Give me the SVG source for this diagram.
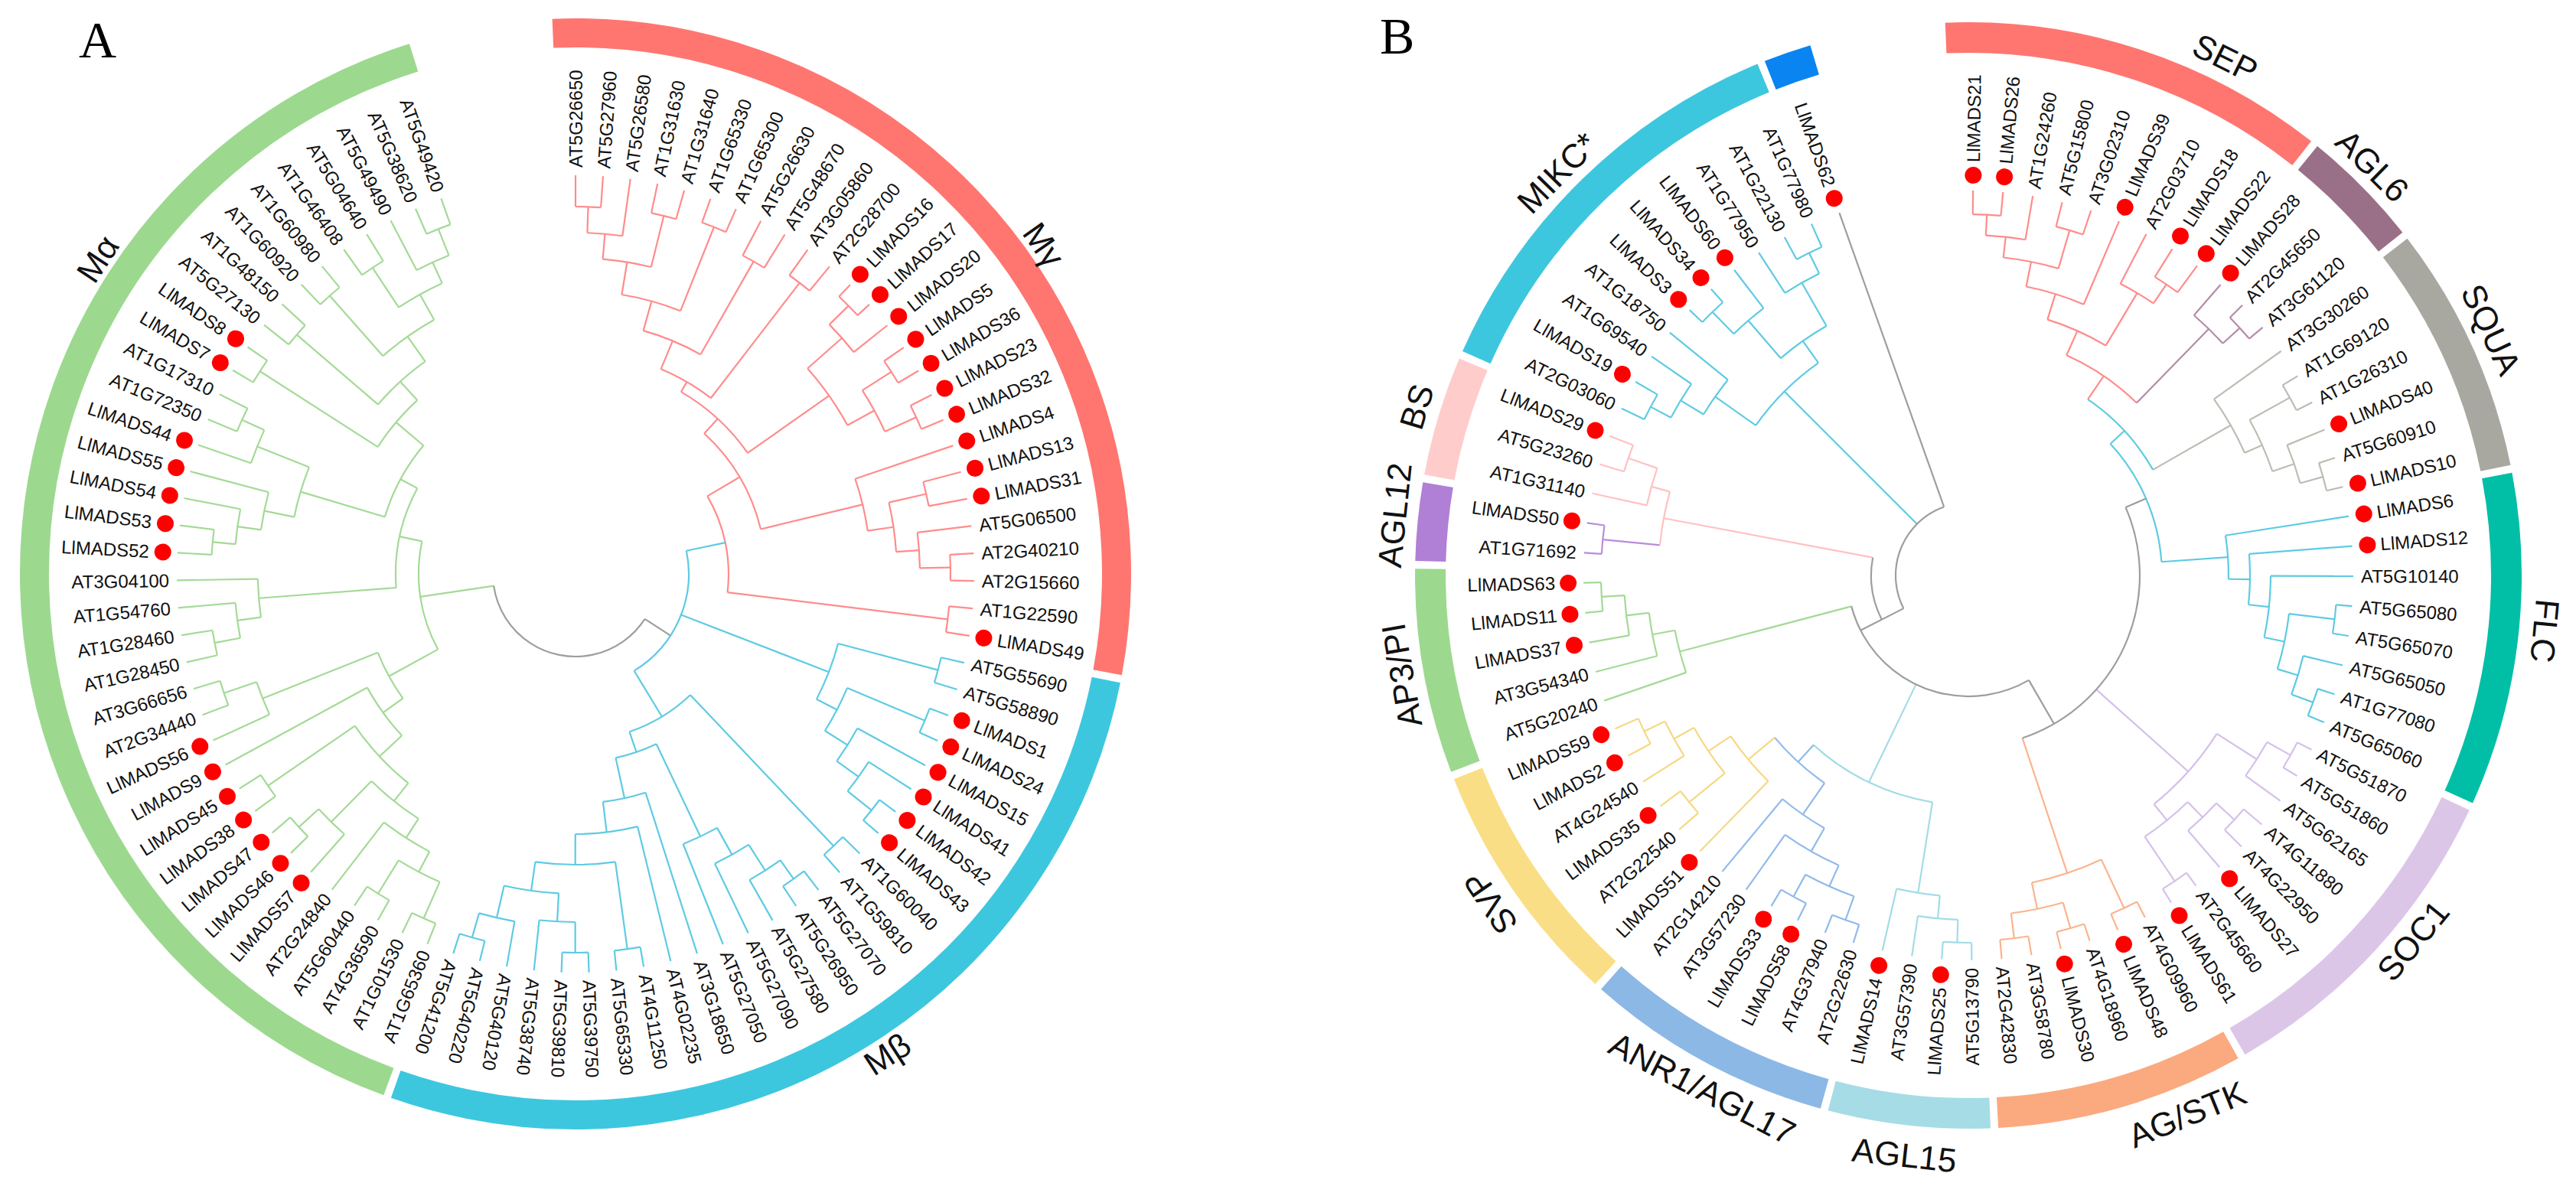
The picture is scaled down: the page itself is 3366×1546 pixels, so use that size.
<svg xmlns="http://www.w3.org/2000/svg" width="3366" height="1546" viewBox="0 0 3366 1546">
<style>
.lb{font-family:"Liberation Sans",Arial,sans-serif;font-size:24px;fill:#111;dominant-baseline:central}
.e{text-anchor:end}
.rl{font-family:"Liberation Sans",Arial,sans-serif;font-size:44px;fill:#111;text-anchor:middle;dominant-baseline:central}
.pn{font-family:"Liberation Serif","Times New Roman",serif;font-size:68px;fill:#000}
.br *{fill:none;stroke-width:2.2}
.rg circle{fill:none}
.dot{fill:#ff0000;r:11px}
.c1{stroke:#FF8C8C}.c2{stroke:#5ECBE3}.c3{stroke:#A4DA96}.c4{stroke:#9E9E9E}.c5{stroke:#B48CA8}.c6{stroke:#BDBDB5}.c7{stroke:#D5C0EA}.c8{stroke:#FBB48E}.c9{stroke:#A3DCE6}.c10{stroke:#90BAEA}.c11{stroke:#F6D884}.c12{stroke:#B98CDC}.c13{stroke:#FFC2C2}
</style>
<rect width="3366" height="1546" fill="#fff"/>
<text class="pn" x="103" y="75">A</text>
<text class="pn" x="1803" y="70">B</text>

<!-- ===== TREE A rings ===== -->
<g id="a-rings" class="rg" transform="translate(752,750) rotate(-90)">
<circle r="707" stroke="#FF7670" stroke-width="38" pathLength="360" stroke-dasharray="102.9 400" transform="rotate(-2.4)"/>
<circle r="707" stroke="#3DC7DF" stroke-width="38" pathLength="360" stroke-dasharray="98.1 400" transform="rotate(101.3)"/>
<circle r="707" stroke="#9CD98F" stroke-width="38" pathLength="360" stroke-dasharray="142.4 400" transform="rotate(200.2)"/>
<text class="rl" transform="rotate(54.9) translate(748,0) rotate(90)">Mγ</text>
<text class="rl" transform="rotate(147) translate(748,0) rotate(-90)">Mβ</text>
<text class="rl" transform="rotate(303.4) translate(748,0) rotate(90)">Mα</text>
</g>

<!-- ===== TREE A connectors ===== -->
<g id="a-connectors" class="br" transform="translate(752,750) rotate(-90)">
<g class="c1">
<path d="M480 0H521"/><path d="M480 0H521" transform="rotate(3.96)"/><path d="M446 0H521" transform="rotate(7.91)"/><path d="M482 0H521" transform="rotate(11.87)"/><path d="M482 0H521" transform="rotate(15.83)"/><path d="M488 0H521" transform="rotate(19.79)"/><path d="M488 0H521" transform="rotate(23.74)"/><path d="M470 0H521" transform="rotate(27.70)"/><path d="M470 0H521" transform="rotate(31.66)"/><path d="M480 0H521" transform="rotate(35.61)"/><path d="M480 0H521" transform="rotate(39.57)"/><path d="M500 0H521" transform="rotate(43.53)"/><path d="M500 0H521" transform="rotate(47.48)"/><path d="M465 0H521" transform="rotate(51.44)"/><path d="M490 0H521" transform="rotate(55.40)"/><path d="M490 0H521" transform="rotate(59.36)"/><path d="M490 0H521" transform="rotate(63.31)"/><path d="M490 0H521" transform="rotate(67.27)"/><path d="M386 0H521" transform="rotate(71.23)"/><path d="M470 0H521" transform="rotate(75.18)"/><path d="M470 0H521" transform="rotate(79.14)"/><path d="M450 0H521" transform="rotate(83.10)"/><path d="M490 0H521" transform="rotate(87.05)"/><path d="M490 0H521" transform="rotate(91.01)"/><path d="M490 0H521" transform="rotate(94.97)"/><path d="M490 0H521" transform="rotate(98.93)"/>
<path d="M446 0H480" transform="rotate(1.98)"/><path d="M413 0H446" transform="rotate(4.95)"/><path d="M413 0H482" transform="rotate(13.85)"/><path d="M370 0H413" transform="rotate(9.40)"/><path d="M370 0H488" transform="rotate(21.76)"/><path d="M330 0H370" transform="rotate(15.58)"/><path d="M330 0H470" transform="rotate(29.68)"/><path d="M290 0H330" transform="rotate(22.63)"/><path d="M290 0H480" transform="rotate(37.59)"/><path d="M275 0H290" transform="rotate(30.11)"/><path d="M465 0H500" transform="rotate(45.51)"/><path d="M405 0H465" transform="rotate(48.47)"/><path d="M445 0H490" transform="rotate(57.38)"/><path d="M445 0H490" transform="rotate(65.29)"/><path d="M405 0H445" transform="rotate(61.33)"/><path d="M275 0H405" transform="rotate(54.90)"/><path d="M249 0H275" transform="rotate(42.51)"/><path d="M420 0H470" transform="rotate(77.16)"/><path d="M450 0H490" transform="rotate(89.03)"/><path d="M420 0H450" transform="rotate(86.07)"/><path d="M386 0H420" transform="rotate(81.61)"/><path d="M249 0H386" transform="rotate(76.42)"/><path d="M200 0H249" transform="rotate(59.46)"/><path d="M200 0H490" transform="rotate(96.95)"/>
<circle r="480" pathLength="360" stroke-dasharray="3.96 400"/><circle r="446" pathLength="360" stroke-dasharray="5.94 400" transform="rotate(1.98)"/><circle r="482" pathLength="360" stroke-dasharray="3.96 400" transform="rotate(11.87)"/><circle r="413" pathLength="360" stroke-dasharray="8.90 400" transform="rotate(4.95)"/><circle r="488" pathLength="360" stroke-dasharray="3.96 400" transform="rotate(19.79)"/><circle r="370" pathLength="360" stroke-dasharray="12.37 400" transform="rotate(9.40)"/><circle r="470" pathLength="360" stroke-dasharray="3.96 400" transform="rotate(27.70)"/><circle r="330" pathLength="360" stroke-dasharray="14.10 400" transform="rotate(15.58)"/><circle r="480" pathLength="360" stroke-dasharray="3.96 400" transform="rotate(35.61)"/><circle r="290" pathLength="360" stroke-dasharray="14.96 400" transform="rotate(22.63)"/><circle r="500" pathLength="360" stroke-dasharray="3.96 400" transform="rotate(43.53)"/><circle r="465" pathLength="360" stroke-dasharray="5.94 400" transform="rotate(45.51)"/><circle r="490" pathLength="360" stroke-dasharray="3.96 400" transform="rotate(55.40)"/><circle r="490" pathLength="360" stroke-dasharray="3.96 400" transform="rotate(63.31)"/><circle r="445" pathLength="360" stroke-dasharray="7.91 400" transform="rotate(57.38)"/><circle r="405" pathLength="360" stroke-dasharray="12.86 400" transform="rotate(48.47)"/><circle r="275" pathLength="360" stroke-dasharray="24.79 400" transform="rotate(30.11)"/><circle r="470" pathLength="360" stroke-dasharray="3.96 400" transform="rotate(75.18)"/><circle r="490" pathLength="360" stroke-dasharray="3.96 400" transform="rotate(87.05)"/><circle r="450" pathLength="360" stroke-dasharray="5.94 400" transform="rotate(83.10)"/><circle r="420" pathLength="360" stroke-dasharray="8.90 400" transform="rotate(77.16)"/><circle r="386" pathLength="360" stroke-dasharray="10.39 400" transform="rotate(71.23)"/><circle r="249" pathLength="360" stroke-dasharray="33.91 400" transform="rotate(42.51)"/><circle r="490" pathLength="360" stroke-dasharray="3.96 400" transform="rotate(94.97)"/><circle r="200" pathLength="360" stroke-dasharray="37.48 400" transform="rotate(59.46)"/>
</g>
<g class="c2">
<path d="M490 0H521" transform="rotate(102.88)"/><path d="M490 0H521" transform="rotate(106.84)"/><path d="M495 0H521" transform="rotate(110.80)"/><path d="M495 0H521" transform="rotate(114.75)"/><path d="M420 0H521" transform="rotate(118.71)"/><path d="M455 0H521" transform="rotate(122.67)"/><path d="M495 0H521" transform="rotate(126.62)"/><path d="M495 0H521" transform="rotate(130.58)"/><path d="M490 0H521" transform="rotate(134.54)"/><path d="M490 0H521" transform="rotate(138.50)"/><path d="M490 0H521" transform="rotate(142.45)"/><path d="M490 0H521" transform="rotate(146.41)"/><path d="M460 0H521" transform="rotate(150.37)"/><path d="M420 0H521" transform="rotate(154.32)"/><path d="M380 0H521" transform="rotate(158.28)"/><path d="M300 0H521" transform="rotate(162.24)"/><path d="M340 0H521" transform="rotate(166.19)"/><path d="M495 0H521" transform="rotate(170.15)"/><path d="M495 0H521" transform="rotate(174.11)"/><path d="M495 0H521" transform="rotate(178.07)"/><path d="M495 0H521" transform="rotate(182.02)"/><path d="M455 0H521" transform="rotate(185.98)"/><path d="M461 0H521" transform="rotate(189.94)"/><path d="M494 0H521" transform="rotate(193.89)"/><path d="M494 0H521" transform="rotate(197.85)"/>
<path d="M355 0H490" transform="rotate(104.86)"/><path d="M385 0H495" transform="rotate(112.78)"/><path d="M455 0H495" transform="rotate(128.60)"/><path d="M420 0H455" transform="rotate(125.64)"/><path d="M385 0H420" transform="rotate(122.17)"/><path d="M355 0H385" transform="rotate(117.47)"/><path d="M148 0H355" transform="rotate(111.17)"/><path d="M218 0H490" transform="rotate(136.52)"/><path d="M460 0H490" transform="rotate(144.43)"/><path d="M420 0H460" transform="rotate(147.40)"/><path d="M380 0H420" transform="rotate(150.86)"/><path d="M246 0H380" transform="rotate(154.57)"/><path d="M455 0H495" transform="rotate(180.04)"/><path d="M380 0H495" transform="rotate(172.13)"/><path d="M418 0H455" transform="rotate(183.01)"/><path d="M461 0H494" transform="rotate(195.87)"/><path d="M418 0H461" transform="rotate(192.90)"/><path d="M380 0H418" transform="rotate(187.96)"/><path d="M340 0H380" transform="rotate(180.04)"/><path d="M300 0H340" transform="rotate(173.12)"/><path d="M246 0H300" transform="rotate(167.68)"/><path d="M218 0H246" transform="rotate(161.13)"/><path d="M148 0H218" transform="rotate(148.82)"/><path d="M148 0H200" transform="rotate(78.2)"/>
<circle r="490" pathLength="360" stroke-dasharray="3.96 400" transform="rotate(102.88)"/><circle r="495" pathLength="360" stroke-dasharray="3.96 400" transform="rotate(110.80)"/><circle r="495" pathLength="360" stroke-dasharray="3.96 400" transform="rotate(126.62)"/><circle r="455" pathLength="360" stroke-dasharray="5.94 400" transform="rotate(122.67)"/><circle r="420" pathLength="360" stroke-dasharray="6.93 400" transform="rotate(118.71)"/><circle r="385" pathLength="360" stroke-dasharray="9.40 400" transform="rotate(112.78)"/><circle r="355" pathLength="360" stroke-dasharray="12.61 400" transform="rotate(104.86)"/><circle r="490" pathLength="360" stroke-dasharray="3.96 400" transform="rotate(134.54)"/><circle r="490" pathLength="360" stroke-dasharray="3.96 400" transform="rotate(142.45)"/><circle r="460" pathLength="360" stroke-dasharray="5.94 400" transform="rotate(144.43)"/><circle r="420" pathLength="360" stroke-dasharray="6.92 400" transform="rotate(147.40)"/><circle r="380" pathLength="360" stroke-dasharray="7.42 400" transform="rotate(150.86)"/><circle r="495" pathLength="360" stroke-dasharray="3.96 400" transform="rotate(178.07)"/><circle r="495" pathLength="360" stroke-dasharray="3.96 400" transform="rotate(170.15)"/><circle r="455" pathLength="360" stroke-dasharray="5.94 400" transform="rotate(180.04)"/><circle r="494" pathLength="360" stroke-dasharray="3.96 400" transform="rotate(193.89)"/><circle r="461" pathLength="360" stroke-dasharray="5.94 400" transform="rotate(189.94)"/><circle r="418" pathLength="360" stroke-dasharray="9.89 400" transform="rotate(183.01)"/><circle r="380" pathLength="360" stroke-dasharray="15.83 400" transform="rotate(172.13)"/><circle r="340" pathLength="360" stroke-dasharray="13.85 400" transform="rotate(166.19)"/><circle r="300" pathLength="360" stroke-dasharray="10.88 400" transform="rotate(162.24)"/><circle r="246" pathLength="360" stroke-dasharray="13.11 400" transform="rotate(154.57)"/><circle r="218" pathLength="360" stroke-dasharray="24.61 400" transform="rotate(136.52)"/><circle r="148" pathLength="360" stroke-dasharray="70.62 400" transform="rotate(78.2)"/>
</g>
<g class="c3">
<path d="M492 0H521" transform="rotate(201.81)"/><path d="M492 0H521" transform="rotate(205.76)"/><path d="M491 0H521" transform="rotate(209.72)"/><path d="M491 0H521" transform="rotate(213.68)"/><path d="M410 0H521" transform="rotate(217.64)"/><path d="M455 0H521" transform="rotate(221.59)"/><path d="M490 0H521" transform="rotate(225.55)"/><path d="M490 0H521" transform="rotate(229.51)"/><path d="M488 0H521" transform="rotate(233.46)"/><path d="M488 0H521" transform="rotate(237.42)"/><path d="M310 0H521" transform="rotate(241.38)"/><path d="M440 0H521" transform="rotate(245.33)"/><path d="M485 0H521" transform="rotate(249.29)"/><path d="M485 0H521" transform="rotate(253.25)"/><path d="M480 0H521" transform="rotate(257.21)"/><path d="M480 0H521" transform="rotate(261.16)"/><path d="M446 0H521" transform="rotate(265.12)"/><path d="M415 0H521" transform="rotate(269.08)"/><path d="M476 0H521" transform="rotate(273.03)"/><path d="M476 0H521" transform="rotate(276.99)"/><path d="M446 0H521" transform="rotate(280.95)"/><path d="M415 0H521" transform="rotate(284.90)"/><path d="M448 0H521" transform="rotate(288.86)"/><path d="M480 0H521" transform="rotate(292.82)"/><path d="M480 0H521" transform="rotate(296.78)"/><path d="M490 0H521" transform="rotate(300.73)"/><path d="M490 0H521" transform="rotate(304.69)"/><path d="M480 0H521" transform="rotate(308.65)"/><path d="M480 0H521" transform="rotate(312.60)"/><path d="M485 0H521" transform="rotate(316.56)"/><path d="M485 0H521" transform="rotate(320.52)"/><path d="M480 0H521" transform="rotate(324.47)"/><path d="M480 0H521" transform="rotate(328.43)"/><path d="M448 0H521" transform="rotate(332.39)"/><path d="M485 0H521" transform="rotate(336.35)"/><path d="M485 0H521" transform="rotate(340.30)"/>
<path d="M440 0H492" transform="rotate(203.79)"/><path d="M440 0H491" transform="rotate(211.70)"/><path d="M410 0H440" transform="rotate(207.74)"/><path d="M380 0H410" transform="rotate(212.69)"/><path d="M455 0H490" transform="rotate(227.53)"/><path d="M380 0H455" transform="rotate(224.56)"/><path d="M350 0H380" transform="rotate(218.63)"/><path d="M350 0H488" transform="rotate(235.44)"/><path d="M310 0H350" transform="rotate(227.03)"/><path d="M278 0H310" transform="rotate(234.21)"/><path d="M440 0H485" transform="rotate(251.27)"/><path d="M278 0H440" transform="rotate(248.30)"/><path d="M205 0H278" transform="rotate(241.25)"/><path d="M446 0H480" transform="rotate(259.18)"/><path d="M415 0H446" transform="rotate(262.15)"/><path d="M235 0H415" transform="rotate(265.61)"/><path d="M446 0H476" transform="rotate(275.01)"/><path d="M415 0H446" transform="rotate(277.98)"/><path d="M375 0H415" transform="rotate(281.44)"/><path d="M448 0H480" transform="rotate(294.80)"/><path d="M375 0H448" transform="rotate(291.83)"/><path d="M260 0H375" transform="rotate(286.64)"/><path d="M307 0H490" transform="rotate(302.71)"/><path d="M340 0H480" transform="rotate(310.63)"/><path d="M380 0H485" transform="rotate(318.54)"/><path d="M418 0H480" transform="rotate(326.45)"/><path d="M448 0H485" transform="rotate(338.32)"/><path d="M418 0H448" transform="rotate(335.36)"/><path d="M380 0H418" transform="rotate(330.91)"/><path d="M340 0H380" transform="rotate(324.72)"/><path d="M307 0H340" transform="rotate(317.67)"/><path d="M260 0H307" transform="rotate(310.19)"/><path d="M235 0H260" transform="rotate(298.42)"/><path d="M205 0H235" transform="rotate(282.02)"/><path d="M108 0H205" transform="rotate(261.64)"/>
<circle r="492" pathLength="360" stroke-dasharray="3.96 400" transform="rotate(201.81)"/><circle r="491" pathLength="360" stroke-dasharray="3.96 400" transform="rotate(209.72)"/><circle r="440" pathLength="360" stroke-dasharray="7.91 400" transform="rotate(203.79)"/><circle r="410" pathLength="360" stroke-dasharray="9.89 400" transform="rotate(207.74)"/><circle r="490" pathLength="360" stroke-dasharray="3.96 400" transform="rotate(225.55)"/><circle r="455" pathLength="360" stroke-dasharray="5.94 400" transform="rotate(221.59)"/><circle r="380" pathLength="360" stroke-dasharray="11.87 400" transform="rotate(212.69)"/><circle r="488" pathLength="360" stroke-dasharray="3.96 400" transform="rotate(233.46)"/><circle r="350" pathLength="360" stroke-dasharray="16.82 400" transform="rotate(218.63)"/><circle r="310" pathLength="360" stroke-dasharray="14.34 400" transform="rotate(227.03)"/><circle r="485" pathLength="360" stroke-dasharray="3.96 400" transform="rotate(249.29)"/><circle r="440" pathLength="360" stroke-dasharray="5.94 400" transform="rotate(245.33)"/><circle r="278" pathLength="360" stroke-dasharray="14.10 400" transform="rotate(234.21)"/><circle r="480" pathLength="360" stroke-dasharray="3.96 400" transform="rotate(257.21)"/><circle r="446" pathLength="360" stroke-dasharray="5.94 400" transform="rotate(259.18)"/><circle r="415" pathLength="360" stroke-dasharray="6.92 400" transform="rotate(262.15)"/><circle r="476" pathLength="360" stroke-dasharray="3.96 400" transform="rotate(273.03)"/><circle r="446" pathLength="360" stroke-dasharray="5.94 400" transform="rotate(275.01)"/><circle r="415" pathLength="360" stroke-dasharray="6.92 400" transform="rotate(277.98)"/><circle r="480" pathLength="360" stroke-dasharray="3.96 400" transform="rotate(292.82)"/><circle r="448" pathLength="360" stroke-dasharray="5.94 400" transform="rotate(288.86)"/><circle r="375" pathLength="360" stroke-dasharray="10.39 400" transform="rotate(281.44)"/><circle r="490" pathLength="360" stroke-dasharray="3.96 400" transform="rotate(300.73)"/><circle r="480" pathLength="360" stroke-dasharray="3.96 400" transform="rotate(308.65)"/><circle r="485" pathLength="360" stroke-dasharray="3.96 400" transform="rotate(316.56)"/><circle r="480" pathLength="360" stroke-dasharray="3.96 400" transform="rotate(324.47)"/><circle r="485" pathLength="360" stroke-dasharray="3.96 400" transform="rotate(336.35)"/><circle r="448" pathLength="360" stroke-dasharray="5.94 400" transform="rotate(332.39)"/><circle r="418" pathLength="360" stroke-dasharray="8.90 400" transform="rotate(326.45)"/><circle r="380" pathLength="360" stroke-dasharray="12.37 400" transform="rotate(318.54)"/><circle r="340" pathLength="360" stroke-dasharray="14.10 400" transform="rotate(310.63)"/><circle r="307" pathLength="360" stroke-dasharray="14.96 400" transform="rotate(302.71)"/><circle r="260" pathLength="360" stroke-dasharray="23.56 400" transform="rotate(286.64)"/><circle r="235" pathLength="360" stroke-dasharray="32.80 400" transform="rotate(265.61)"/><circle r="205" pathLength="360" stroke-dasharray="40.76 400" transform="rotate(241.25)"/>
</g>
<g class="c4">
<circle r="108" pathLength="360" stroke-dasharray="138.64 400" transform="rotate(123)"/><path d="M108 0H148" transform="rotate(123)"/>
</g>
</g>

<!-- ===== TREE A labels ===== -->
<g id="a-labels" transform="translate(752,750) rotate(-90)">
<g id="a-AT5G26650" transform="rotate(0)"><text class="lb" x="531">AT5G26650</text></g>
<g id="a-AT5G27960" transform="rotate(3.96)"><text class="lb" x="531">AT5G27960</text></g>
<g id="a-AT5G26580" transform="rotate(7.91)"><text class="lb" x="531">AT5G26580</text></g>
<g id="a-AT1G31630" transform="rotate(11.87)"><text class="lb" x="531">AT1G31630</text></g>
<g id="a-AT1G31640" transform="rotate(15.83)"><text class="lb" x="531">AT1G31640</text></g>
<g id="a-AT1G65330" transform="rotate(19.79)"><text class="lb" x="531">AT1G65330</text></g>
<g id="a-AT1G65300" transform="rotate(23.74)"><text class="lb" x="531">AT1G65300</text></g>
<g id="a-AT5G26630" transform="rotate(27.70)"><text class="lb" x="531">AT5G26630</text></g>
<g id="a-AT5G48670" transform="rotate(31.66)"><text class="lb" x="531">AT5G48670</text></g>
<g id="a-AT3G05860" transform="rotate(35.61)"><text class="lb" x="531">AT3G05860</text></g>
<g id="a-AT2G28700" transform="rotate(39.57)"><text class="lb" x="531">AT2G28700</text></g>
<g id="a-LlMADS16" transform="rotate(43.53)"><circle class="dot" cx="540" r="10.5"/><text class="lb" x="558">LlMADS16</text></g>
<g id="a-LlMADS17" transform="rotate(47.48)"><circle class="dot" cx="540" r="10.5"/><text class="lb" x="558">LlMADS17</text></g>
<g id="a-LlMADS20" transform="rotate(51.44)"><circle class="dot" cx="540" r="10.5"/><text class="lb" x="558">LlMADS20</text></g>
<g id="a-LlMADS5" transform="rotate(55.40)"><circle class="dot" cx="540" r="10.5"/><text class="lb" x="558">LlMADS5</text></g>
<g id="a-LlMADS36" transform="rotate(59.36)"><circle class="dot" cx="540" r="10.5"/><text class="lb" x="558">LlMADS36</text></g>
<g id="a-LlMADS23" transform="rotate(63.31)"><circle class="dot" cx="540" r="10.5"/><text class="lb" x="558">LlMADS23</text></g>
<g id="a-LlMADS32" transform="rotate(67.27)"><circle class="dot" cx="540" r="10.5"/><text class="lb" x="558">LlMADS32</text></g>
<g id="a-LlMADS4" transform="rotate(71.23)"><circle class="dot" cx="540" r="10.5"/><text class="lb" x="558">LlMADS4</text></g>
<g id="a-LlMADS13" transform="rotate(75.18)"><circle class="dot" cx="540" r="10.5"/><text class="lb" x="558">LlMADS13</text></g>
<g id="a-LlMADS31" transform="rotate(79.14)"><circle class="dot" cx="540" r="10.5"/><text class="lb" x="558">LlMADS31</text></g>
<g id="a-AT5G06500" transform="rotate(83.10)"><text class="lb" x="531">AT5G06500</text></g>
<g id="a-AT2G40210" transform="rotate(87.05)"><text class="lb" x="531">AT2G40210</text></g>
<g id="a-AT2G15660" transform="rotate(91.01)"><text class="lb" x="531">AT2G15660</text></g>
<g id="a-AT1G22590" transform="rotate(94.97)"><text class="lb" x="531">AT1G22590</text></g>
<g id="a-LlMADS49" transform="rotate(98.93)"><circle class="dot" cx="540" r="10.5"/><text class="lb" x="558">LlMADS49</text></g>
<g id="a-AT5G55690" transform="rotate(102.88)"><text class="lb" x="531">AT5G55690</text></g>
<g id="a-AT5G58890" transform="rotate(106.84)"><text class="lb" x="531">AT5G58890</text></g>
<g id="a-LlMADS1" transform="rotate(110.80)"><circle class="dot" cx="540" r="10.5"/><text class="lb" x="558">LlMADS1</text></g>
<g id="a-LlMADS24" transform="rotate(114.75)"><circle class="dot" cx="540" r="10.5"/><text class="lb" x="558">LlMADS24</text></g>
<g id="a-LlMADS15" transform="rotate(118.71)"><circle class="dot" cx="540" r="10.5"/><text class="lb" x="558">LlMADS15</text></g>
<g id="a-LlMADS41" transform="rotate(122.67)"><circle class="dot" cx="540" r="10.5"/><text class="lb" x="558">LlMADS41</text></g>
<g id="a-LlMADS42" transform="rotate(126.62)"><circle class="dot" cx="540" r="10.5"/><text class="lb" x="558">LlMADS42</text></g>
<g id="a-LlMADS43" transform="rotate(130.58)"><circle class="dot" cx="540" r="10.5"/><text class="lb" x="558">LlMADS43</text></g>
<g id="a-AT1G60040" transform="rotate(134.54)"><text class="lb" x="531">AT1G60040</text></g>
<g id="a-AT1G59810" transform="rotate(138.50)"><text class="lb" x="531">AT1G59810</text></g>
<g id="a-AT5G27070" transform="rotate(142.45)"><text class="lb" x="531">AT5G27070</text></g>
<g id="a-AT5G26950" transform="rotate(146.41)"><text class="lb" x="531">AT5G26950</text></g>
<g id="a-AT5G27580" transform="rotate(150.37)"><text class="lb" x="531">AT5G27580</text></g>
<g id="a-AT5G27090" transform="rotate(154.32)"><text class="lb" x="531">AT5G27090</text></g>
<g id="a-AT5G27050" transform="rotate(158.28)"><text class="lb" x="531">AT5G27050</text></g>
<g id="a-AT3G18650" transform="rotate(162.24)"><text class="lb" x="531">AT3G18650</text></g>
<g id="a-AT4G02235" transform="rotate(166.19)"><text class="lb" x="531">AT4G02235</text></g>
<g id="a-AT4G11250" transform="rotate(170.15)"><text class="lb" x="531">AT4G11250</text></g>
<g id="a-AT5G65330" transform="rotate(174.11)"><text class="lb" x="531">AT5G65330</text></g>
<g id="a-AT5G39750" transform="rotate(178.07)"><text class="lb" x="531">AT5G39750</text></g>
<g id="a-AT5G39810" transform="rotate(182.02)"><text class="lb" x="531">AT5G39810</text></g>
<g id="a-AT5G38740" transform="rotate(185.98)"><text class="lb" x="531">AT5G38740</text></g>
<g id="a-AT5G40120" transform="rotate(189.94)"><text class="lb" x="531">AT5G40120</text></g>
<g id="a-AT5G40220" transform="rotate(193.89)"><text class="lb" x="531">AT5G40220</text></g>
<g id="a-AT5G41200" transform="rotate(197.85)"><text class="lb" x="531">AT5G41200</text></g>
<g id="a-AT1G65360" transform="rotate(201.81)"><text class="lb e" x="-531" transform="rotate(180)">AT1G65360</text></g>
<g id="a-AT1G01530" transform="rotate(205.76)"><text class="lb e" x="-531" transform="rotate(180)">AT1G01530</text></g>
<g id="a-AT4G36590" transform="rotate(209.72)"><text class="lb e" x="-531" transform="rotate(180)">AT4G36590</text></g>
<g id="a-AT5G60440" transform="rotate(213.68)"><text class="lb e" x="-531" transform="rotate(180)">AT5G60440</text></g>
<g id="a-AT2G24840" transform="rotate(217.64)"><text class="lb e" x="-531" transform="rotate(180)">AT2G24840</text></g>
<g id="a-LlMADS57" transform="rotate(221.59)"><circle class="dot" cx="540" r="10.5"/><text class="lb e" x="-558" transform="rotate(180)">LlMADS57</text></g>
<g id="a-LlMADS46" transform="rotate(225.55)"><circle class="dot" cx="540" r="10.5"/><text class="lb e" x="-558" transform="rotate(180)">LlMADS46</text></g>
<g id="a-LlMADS47" transform="rotate(229.51)"><circle class="dot" cx="540" r="10.5"/><text class="lb e" x="-558" transform="rotate(180)">LlMADS47</text></g>
<g id="a-LlMADS38" transform="rotate(233.46)"><circle class="dot" cx="540" r="10.5"/><text class="lb e" x="-558" transform="rotate(180)">LlMADS38</text></g>
<g id="a-LlMADS45" transform="rotate(237.42)"><circle class="dot" cx="540" r="10.5"/><text class="lb e" x="-558" transform="rotate(180)">LlMADS45</text></g>
<g id="a-LlMADS9" transform="rotate(241.38)"><circle class="dot" cx="540" r="10.5"/><text class="lb e" x="-558" transform="rotate(180)">LlMADS9</text></g>
<g id="a-LlMADS56" transform="rotate(245.33)"><circle class="dot" cx="540" r="10.5"/><text class="lb e" x="-558" transform="rotate(180)">LlMADS56</text></g>
<g id="a-AT2G34440" transform="rotate(249.29)"><text class="lb e" x="-531" transform="rotate(180)">AT2G34440</text></g>
<g id="a-AT3G66656" transform="rotate(253.25)"><text class="lb e" x="-531" transform="rotate(180)">AT3G66656</text></g>
<g id="a-AT1G28450" transform="rotate(257.21)"><text class="lb e" x="-531" transform="rotate(180)">AT1G28450</text></g>
<g id="a-AT1G28460" transform="rotate(261.16)"><text class="lb e" x="-531" transform="rotate(180)">AT1G28460</text></g>
<g id="a-AT1G54760" transform="rotate(265.12)"><text class="lb e" x="-531" transform="rotate(180)">AT1G54760</text></g>
<g id="a-AT3G04100" transform="rotate(269.08)"><text class="lb e" x="-531" transform="rotate(180)">AT3G04100</text></g>
<g id="a-LlMADS52" transform="rotate(273.03)"><circle class="dot" cx="540" r="10.5"/><text class="lb e" x="-558" transform="rotate(180)">LlMADS52</text></g>
<g id="a-LlMADS53" transform="rotate(276.99)"><circle class="dot" cx="540" r="10.5"/><text class="lb e" x="-558" transform="rotate(180)">LlMADS53</text></g>
<g id="a-LlMADS54" transform="rotate(280.95)"><circle class="dot" cx="540" r="10.5"/><text class="lb e" x="-558" transform="rotate(180)">LlMADS54</text></g>
<g id="a-LlMADS55" transform="rotate(284.90)"><circle class="dot" cx="540" r="10.5"/><text class="lb e" x="-558" transform="rotate(180)">LlMADS55</text></g>
<g id="a-LlMADS44" transform="rotate(288.86)"><circle class="dot" cx="540" r="10.5"/><text class="lb e" x="-558" transform="rotate(180)">LlMADS44</text></g>
<g id="a-AT1G72350" transform="rotate(292.82)"><text class="lb e" x="-531" transform="rotate(180)">AT1G72350</text></g>
<g id="a-AT1G17310" transform="rotate(296.78)"><text class="lb e" x="-531" transform="rotate(180)">AT1G17310</text></g>
<g id="a-LlMADS7" transform="rotate(300.73)"><circle class="dot" cx="540" r="10.5"/><text class="lb e" x="-558" transform="rotate(180)">LlMADS7</text></g>
<g id="a-LlMADS8" transform="rotate(304.69)"><circle class="dot" cx="540" r="10.5"/><text class="lb e" x="-558" transform="rotate(180)">LlMADS8</text></g>
<g id="a-AT5G27130" transform="rotate(308.65)"><text class="lb e" x="-531" transform="rotate(180)">AT5G27130</text></g>
<g id="a-AT1G48150" transform="rotate(312.60)"><text class="lb e" x="-531" transform="rotate(180)">AT1G48150</text></g>
<g id="a-AT1G60920" transform="rotate(316.56)"><text class="lb e" x="-531" transform="rotate(180)">AT1G60920</text></g>
<g id="a-AT1G60980" transform="rotate(320.52)"><text class="lb e" x="-531" transform="rotate(180)">AT1G60980</text></g>
<g id="a-AT1G46408" transform="rotate(324.47)"><text class="lb e" x="-531" transform="rotate(180)">AT1G46408</text></g>
<g id="a-AT5G04640" transform="rotate(328.43)"><text class="lb e" x="-531" transform="rotate(180)">AT5G04640</text></g>
<g id="a-AT5G49490" transform="rotate(332.39)"><text class="lb e" x="-531" transform="rotate(180)">AT5G49490</text></g>
<g id="a-AT5G38620" transform="rotate(336.35)"><text class="lb e" x="-531" transform="rotate(180)">AT5G38620</text></g>
<g id="a-AT5G49420" transform="rotate(340.30)"><text class="lb e" x="-531" transform="rotate(180)">AT5G49420</text></g>
</g>

<!-- ===== TREE B rings ===== -->
<g id="b-rings" class="rg" transform="translate(2572,752) rotate(-90)">
<circle r="703" stroke="#FF7670" stroke-width="40" pathLength="360" stroke-dasharray="40.7 400" transform="rotate(-2.4)"/>
<circle r="703" stroke="#9A7089" stroke-width="40" pathLength="360" stroke-dasharray="12.6 400" transform="rotate(39.1)"/>
<circle r="703" stroke="#A8A8A1" stroke-width="40" pathLength="360" stroke-dasharray="26.0 400" transform="rotate(52.5)"/>
<circle r="703" stroke="#00BFA6" stroke-width="40" pathLength="360" stroke-dasharray="35.0 400" transform="rotate(79.3)"/>
<circle r="703" stroke="#DCC6E8" stroke-width="40" pathLength="360" stroke-dasharray="34.9 400" transform="rotate(115.1)"/>
<circle r="703" stroke="#FAAA7E" stroke-width="40" pathLength="360" stroke-dasharray="26.1 400" transform="rotate(150.8)"/>
<circle r="703" stroke="#A6DCE5" stroke-width="40" pathLength="360" stroke-dasharray="17.0 400" transform="rotate(177.7)"/>
<circle r="703" stroke="#8CB8E6" stroke-width="40" pathLength="360" stroke-dasharray="26.1 400" transform="rotate(195.5)"/>
<circle r="703" stroke="#FADE85" stroke-width="40" pathLength="360" stroke-dasharray="26.0 400" transform="rotate(222.4)"/>
<circle r="703" stroke="#9CD98F" stroke-width="40" pathLength="360" stroke-dasharray="21.5 400" transform="rotate(249.2)"/>
<circle r="703" stroke="#B07FD6" stroke-width="40" pathLength="360" stroke-dasharray="8.2 400" transform="rotate(271.5)"/>
<circle r="703" stroke="#FFCCCC" stroke-width="40" pathLength="360" stroke-dasharray="12.6 400" transform="rotate(280.5)"/>
<circle r="703" stroke="#3DC7DF" stroke-width="40" pathLength="360" stroke-dasharray="43.7 400" transform="rotate(293.9)"/>
<circle r="703" stroke="#0A84F0" stroke-width="40" pathLength="360" stroke-dasharray="5.0 400" transform="rotate(338.4)"/>
<text class="rl" transform="rotate(26.4) translate(755,0) rotate(90)">SEP</text>
<text class="rl" transform="rotate(44.6) translate(752,0) rotate(90)">AGL6</text>
<text class="rl" transform="rotate(64.8) translate(755,0) rotate(90)">SQUA</text>
<text class="rl" transform="rotate(95.5) translate(757,0) rotate(90)">FLC</text>
<text class="rl" transform="rotate(129.4) translate(752,0) rotate(-90)">SOC1</text>
<text class="rl" transform="rotate(157.9) translate(760,0) rotate(-90)">AG/STK</text>
<text class="rl" transform="rotate(186.3) translate(762,0) rotate(-90)">AGL15</text>
<text class="rl" transform="rotate(207.4) translate(755,0) rotate(-90)">ANR1/AGL17</text>
<text class="rl" transform="rotate(235.6) translate(757,0) rotate(90)">SVP</text>
<text class="rl" transform="rotate(260) translate(752,0) rotate(90)">AP3/PI</text>
<text class="rl" transform="rotate(276) translate(754,0) rotate(90)">AGL12</text>
<text class="rl" transform="rotate(287) translate(754,0) rotate(90)">BS</text>
<text class="rl" transform="rotate(314.4) translate(752,0) rotate(90)">MIKC*</text>
</g>

<!-- ===== TREE B connectors ===== -->
<g id="b-connectors" class="br" transform="translate(2572,752) rotate(-90)">
<g class="c1">
<path d="M472 0H503" transform="rotate(0.70)"/><path d="M472 0H503" transform="rotate(5.17)"/><path d="M445 0H503" transform="rotate(9.64)"/><path d="M470 0H503" transform="rotate(14.11)"/><path d="M470 0H503" transform="rotate(18.58)"/><path d="M385 0H503" transform="rotate(23.05)"/><path d="M430 0H503" transform="rotate(27.52)"/><path d="M460 0H503" transform="rotate(31.99)"/><path d="M460 0H503" transform="rotate(36.46)"/>
<path d="M445 0H472" transform="rotate(2.94)"/><path d="M418 0H445" transform="rotate(6.29)"/><path d="M418 0H470" transform="rotate(16.35)"/><path d="M385 0H418" transform="rotate(11.32)"/><path d="M350 0H385" transform="rotate(17.18)"/><path d="M430 0H460" transform="rotate(34.23)"/><path d="M350 0H430" transform="rotate(30.87)"/><path d="M315 0H350" transform="rotate(24.03)"/><path d="M278 0H315" transform="rotate(34.16)"/>
<circle r="472" pathLength="360" stroke-dasharray="4.47 400" transform="rotate(0.70)"/><circle r="445" pathLength="360" stroke-dasharray="6.71 400" transform="rotate(2.94)"/><circle r="470" pathLength="360" stroke-dasharray="4.47 400" transform="rotate(14.11)"/><circle r="418" pathLength="360" stroke-dasharray="10.06 400" transform="rotate(6.29)"/><circle r="385" pathLength="360" stroke-dasharray="11.73 400" transform="rotate(11.32)"/><circle r="460" pathLength="360" stroke-dasharray="4.47 400" transform="rotate(31.99)"/><circle r="430" pathLength="360" stroke-dasharray="6.71 400" transform="rotate(27.52)"/><circle r="350" pathLength="360" stroke-dasharray="13.69 400" transform="rotate(17.18)"/><circle r="315" pathLength="360" stroke-dasharray="20.25 400" transform="rotate(24.03)"/>
</g>
<g class="c5">
<path d="M450 0H503" transform="rotate(40.93)"/><path d="M480 0H503" transform="rotate(45.40)"/><path d="M480 0H503" transform="rotate(49.87)"/><path d="M450 0H480" transform="rotate(47.64)"/><path d="M315 0H450" transform="rotate(44.28)"/>
<circle r="480" pathLength="360" stroke-dasharray="4.47 400" transform="rotate(45.40)"/><circle r="450" pathLength="360" stroke-dasharray="6.71 400" transform="rotate(40.93)"/>
</g>
<g class="c6">
<path d="M395 0H503" transform="rotate(54.34)"/><path d="M480 0H503" transform="rotate(58.81)"/><path d="M480 0H503" transform="rotate(63.28)"/><path d="M450 0H503" transform="rotate(67.75)"/><path d="M481 0H503" transform="rotate(72.22)"/><path d="M481 0H503" transform="rotate(76.69)"/>
<path d="M450 0H481" transform="rotate(74.46)"/><path d="M420 0H450" transform="rotate(71.10)"/><path d="M420 0H480" transform="rotate(61.05)"/><path d="M395 0H420" transform="rotate(66.07)"/><path d="M278 0H395" transform="rotate(60.21)"/>
<circle r="481" pathLength="360" stroke-dasharray="4.47 400" transform="rotate(72.22)"/><circle r="450" pathLength="360" stroke-dasharray="6.71 400" transform="rotate(67.75)"/><circle r="480" pathLength="360" stroke-dasharray="4.47 400" transform="rotate(58.81)"/><circle r="420" pathLength="360" stroke-dasharray="10.06 400" transform="rotate(61.05)"/><circle r="395" pathLength="360" stroke-dasharray="11.73 400" transform="rotate(54.34)"/>
</g>
<g class="c2">
<path d="M340 0H503" transform="rotate(81.16)"/><path d="M368 0H503" transform="rotate(85.63)"/><path d="M395 0H503" transform="rotate(90.10)"/><path d="M482 0H503" transform="rotate(94.57)"/><path d="M482 0H503" transform="rotate(99.04)"/><path d="M450 0H503" transform="rotate(103.51)"/><path d="M480 0H503" transform="rotate(107.98)"/><path d="M480 0H503" transform="rotate(112.45)"/>
<path d="M450 0H480" transform="rotate(110.22)"/><path d="M422 0H450" transform="rotate(106.86)"/><path d="M422 0H482" transform="rotate(96.81)"/><path d="M395 0H422" transform="rotate(101.83)"/><path d="M368 0H395" transform="rotate(95.97)"/><path d="M340 0H368" transform="rotate(90.80)"/><path d="M253 0H340" transform="rotate(85.98)"/><path d="M253 0H278" transform="rotate(47.18)"/>
<circle r="480" pathLength="360" stroke-dasharray="4.47 400" transform="rotate(107.98)"/><circle r="450" pathLength="360" stroke-dasharray="6.71 400" transform="rotate(103.51)"/><circle r="482" pathLength="360" stroke-dasharray="4.47 400" transform="rotate(94.57)"/><circle r="422" pathLength="360" stroke-dasharray="10.06 400" transform="rotate(96.81)"/><circle r="395" pathLength="360" stroke-dasharray="11.73 400" transform="rotate(90.10)"/><circle r="368" pathLength="360" stroke-dasharray="10.34 400" transform="rotate(85.63)"/><circle r="340" pathLength="360" stroke-dasharray="9.64 400" transform="rotate(81.16)"/><circle r="253" pathLength="360" stroke-dasharray="38.80 400" transform="rotate(47.18)"/><circle r="278" pathLength="360" stroke-dasharray="26.05 400" transform="rotate(34.16)"/>
<path d="M470 0H503" transform="rotate(295.72)"/><path d="M470 0H503" transform="rotate(300.19)"/><path d="M440 0H503" transform="rotate(304.66)"/><path d="M405 0H503" transform="rotate(309.13)"/><path d="M480 0H503" transform="rotate(313.60)"/><path d="M480 0H503" transform="rotate(318.07)"/><path d="M440 0H503" transform="rotate(322.54)"/><path d="M440 0H503" transform="rotate(327.01)"/><path d="M470 0H503" transform="rotate(331.48)"/><path d="M470 0H503" transform="rotate(335.95)"/>
<path d="M440 0H470" transform="rotate(297.96)"/><path d="M405 0H440" transform="rotate(301.31)"/><path d="M340 0H405" transform="rotate(305.22)"/><path d="M440 0H480" transform="rotate(315.84)"/><path d="M375 0H440" transform="rotate(319.19)"/><path d="M440 0H470" transform="rotate(333.72)"/><path d="M375 0H440" transform="rotate(330.36)"/><path d="M340 0H375" transform="rotate(324.78)"/><path d="M95 0H340" transform="rotate(315.00)"/>
<circle r="470" pathLength="360" stroke-dasharray="4.47 400" transform="rotate(295.72)"/><circle r="440" pathLength="360" stroke-dasharray="6.71 400" transform="rotate(297.96)"/><circle r="405" pathLength="360" stroke-dasharray="7.82 400" transform="rotate(301.31)"/><circle r="480" pathLength="360" stroke-dasharray="4.47 400" transform="rotate(313.60)"/><circle r="440" pathLength="360" stroke-dasharray="6.71 400" transform="rotate(315.84)"/><circle r="470" pathLength="360" stroke-dasharray="4.47 400" transform="rotate(331.48)"/><circle r="440" pathLength="360" stroke-dasharray="6.71 400" transform="rotate(327.01)"/><circle r="375" pathLength="360" stroke-dasharray="11.18 400" transform="rotate(319.19)"/><circle r="340" pathLength="360" stroke-dasharray="19.56 400" transform="rotate(305.22)"/>
</g>
<g class="c7">
<path d="M482 0H503" transform="rotate(116.92)"/><path d="M482 0H503" transform="rotate(121.39)"/><path d="M447 0H503" transform="rotate(125.86)"/><path d="M472 0H503" transform="rotate(130.33)"/><path d="M472 0H503" transform="rotate(134.80)"/><path d="M440 0H503" transform="rotate(139.27)"/><path d="M482 0H503" transform="rotate(143.74)"/><path d="M482 0H503" transform="rotate(148.21)"/>
<path d="M447 0H482" transform="rotate(119.16)"/><path d="M385 0H447" transform="rotate(122.51)"/><path d="M440 0H472" transform="rotate(132.57)"/><path d="M412 0H440" transform="rotate(135.92)"/><path d="M412 0H482" transform="rotate(145.98)"/><path d="M385 0H412" transform="rotate(140.95)"/><path d="M224 0H385" transform="rotate(131.73)"/>
<circle r="482" pathLength="360" stroke-dasharray="4.47 400" transform="rotate(116.92)"/><circle r="447" pathLength="360" stroke-dasharray="6.71 400" transform="rotate(119.16)"/><circle r="472" pathLength="360" stroke-dasharray="4.47 400" transform="rotate(130.33)"/><circle r="440" pathLength="360" stroke-dasharray="6.71 400" transform="rotate(132.57)"/><circle r="482" pathLength="360" stroke-dasharray="4.47 400" transform="rotate(143.74)"/><circle r="412" pathLength="360" stroke-dasharray="10.06 400" transform="rotate(135.92)"/><circle r="385" pathLength="360" stroke-dasharray="18.44 400" transform="rotate(122.51)"/>
</g>
<g class="c8">
<path d="M480 0H503" transform="rotate(152.68)"/><path d="M480 0H503" transform="rotate(157.15)"/><path d="M480 0H503" transform="rotate(161.62)"/><path d="M480 0H503" transform="rotate(166.09)"/><path d="M478 0H503" transform="rotate(170.56)"/><path d="M478 0H503" transform="rotate(175.03)"/>
<path d="M410 0H480" transform="rotate(154.92)"/><path d="M445 0H480" transform="rotate(163.86)"/><path d="M445 0H478" transform="rotate(172.80)"/><path d="M410 0H445" transform="rotate(168.33)"/><path d="M224 0H410" transform="rotate(161.62)"/>
<circle r="480" pathLength="360" stroke-dasharray="4.47 400" transform="rotate(152.68)"/><circle r="480" pathLength="360" stroke-dasharray="4.47 400" transform="rotate(161.62)"/><circle r="478" pathLength="360" stroke-dasharray="4.47 400" transform="rotate(170.56)"/><circle r="445" pathLength="360" stroke-dasharray="8.94 400" transform="rotate(163.86)"/><circle r="410" pathLength="360" stroke-dasharray="13.41 400" transform="rotate(154.92)"/>
</g>
<g class="c9">
<path d="M480 0H503" transform="rotate(179.50)"/><path d="M480 0H503" transform="rotate(183.97)"/><path d="M450 0H503" transform="rotate(188.44)"/><path d="M420 0H503" transform="rotate(192.91)"/>
<path d="M450 0H480" transform="rotate(181.74)"/><path d="M420 0H450" transform="rotate(185.09)"/><path d="M300 0H420" transform="rotate(189.00)"/><path d="M158 0H300" transform="rotate(205.69)"/>
<circle r="480" pathLength="360" stroke-dasharray="4.47 400" transform="rotate(179.50)"/><circle r="450" pathLength="360" stroke-dasharray="6.71 400" transform="rotate(181.74)"/><circle r="420" pathLength="360" stroke-dasharray="7.82 400" transform="rotate(185.09)"/><circle r="300" pathLength="360" stroke-dasharray="33.39 400" transform="rotate(189.00)"/>
</g>
<g class="c10">
<path d="M478 0H503" transform="rotate(197.38)"/><path d="M478 0H503" transform="rotate(201.85)"/><path d="M478 0H503" transform="rotate(206.32)"/><path d="M478 0H503" transform="rotate(210.79)"/><path d="M415 0H503" transform="rotate(215.26)"/><path d="M380 0H503" transform="rotate(219.73)"/>
<path d="M445 0H478" transform="rotate(199.62)"/><path d="M445 0H478" transform="rotate(208.56)"/><path d="M415 0H445" transform="rotate(204.09)"/><path d="M380 0H415" transform="rotate(209.67)"/><path d="M330 0H380" transform="rotate(214.70)"/><path d="M300 0H330" transform="rotate(222.38)"/>
<circle r="478" pathLength="360" stroke-dasharray="4.47 400" transform="rotate(197.38)"/><circle r="478" pathLength="360" stroke-dasharray="4.47 400" transform="rotate(206.32)"/><circle r="445" pathLength="360" stroke-dasharray="8.94 400" transform="rotate(199.62)"/><circle r="415" pathLength="360" stroke-dasharray="11.18 400" transform="rotate(204.09)"/><circle r="380" pathLength="360" stroke-dasharray="10.06 400" transform="rotate(209.67)"/><circle r="330" pathLength="360" stroke-dasharray="15.37 400" transform="rotate(214.70)"/>
</g>
<g class="c11">
<path d="M375 0H503" transform="rotate(224.20)"/><path d="M470 0H503" transform="rotate(228.67)"/><path d="M470 0H503" transform="rotate(233.14)"/><path d="M440 0H503" transform="rotate(237.61)"/><path d="M470 0H503" transform="rotate(242.08)"/><path d="M470 0H503" transform="rotate(246.55)"/>
<path d="M440 0H470" transform="rotate(244.32)"/><path d="M410 0H440" transform="rotate(240.96)"/><path d="M410 0H470" transform="rotate(230.91)"/><path d="M375 0H410" transform="rotate(235.93)"/><path d="M330 0H375" transform="rotate(230.07)"/>
<circle r="470" pathLength="360" stroke-dasharray="4.47 400" transform="rotate(242.08)"/><circle r="440" pathLength="360" stroke-dasharray="6.71 400" transform="rotate(237.61)"/><circle r="470" pathLength="360" stroke-dasharray="4.47 400" transform="rotate(228.67)"/><circle r="410" pathLength="360" stroke-dasharray="10.06 400" transform="rotate(230.91)"/><circle r="375" pathLength="360" stroke-dasharray="11.73 400" transform="rotate(224.20)"/>
</g>
<g class="c3">
<path d="M390 0H503" transform="rotate(251.02)"/><path d="M420 0H503" transform="rotate(255.49)"/><path d="M450 0H503" transform="rotate(259.96)"/><path d="M480 0H503" transform="rotate(264.43)"/><path d="M480 0H503" transform="rotate(268.90)"/>
<path d="M450 0H480" transform="rotate(266.67)"/><path d="M420 0H450" transform="rotate(263.31)"/><path d="M390 0H420" transform="rotate(259.40)"/><path d="M158 0H390" transform="rotate(255.21)"/>
<circle r="480" pathLength="360" stroke-dasharray="4.47 400" transform="rotate(264.43)"/><circle r="450" pathLength="360" stroke-dasharray="6.71 400" transform="rotate(259.96)"/><circle r="420" pathLength="360" stroke-dasharray="7.82 400" transform="rotate(255.49)"/><circle r="390" pathLength="360" stroke-dasharray="8.38 400" transform="rotate(251.02)"/>
</g>
<g class="c12">
<path d="M480 0H503" transform="rotate(273.37)"/><path d="M480 0H503" transform="rotate(277.84)"/><path d="M405 0H480" transform="rotate(275.61)"/>
<circle r="480" pathLength="360" stroke-dasharray="4.47 400" transform="rotate(273.37)"/>
</g>
<g class="c13">
<path d="M430 0H503" transform="rotate(282.31)"/><path d="M470 0H503" transform="rotate(286.78)"/><path d="M470 0H503" transform="rotate(291.25)"/>
<path d="M430 0H470" transform="rotate(289.02)"/><path d="M405 0H430" transform="rotate(285.66)"/><path d="M127 0H405" transform="rotate(280.63)"/>
<circle r="470" pathLength="360" stroke-dasharray="4.47 400" transform="rotate(286.78)"/><circle r="430" pathLength="360" stroke-dasharray="6.71 400" transform="rotate(282.31)"/><circle r="405" pathLength="360" stroke-dasharray="10.06 400" transform="rotate(275.61)"/>
</g>
<g class="c4">
<path d="M95 0H503" transform="rotate(340.42)"/><path d="M95 0H158" transform="rotate(243)"/><path d="M158 0H224" transform="rotate(150)"/><path d="M224 0H253" transform="rotate(66.58)"/>
<circle r="95" pathLength="360" stroke-dasharray="97.42 400" transform="rotate(243)"/><circle r="127" pathLength="360" stroke-dasharray="37.63 400" transform="rotate(243)"/><circle r="158" pathLength="360" stroke-dasharray="105.21 400" transform="rotate(150)"/><circle r="224" pathLength="360" stroke-dasharray="95.04 400" transform="rotate(66.58)"/>
</g>
</g>

<!-- ===== TREE B labels ===== -->
<g id="b-labels" transform="translate(2572,752) rotate(-90)">
<g id="b-LlMADS21" transform="rotate(0.70)"><circle class="dot" cx="523" r="10.5"/><text class="lb" x="540">LlMADS21</text></g>
<g id="b-LlMADS26" transform="rotate(5.17)"><circle class="dot" cx="523" r="10.5"/><text class="lb" x="540">LlMADS26</text></g>
<g id="b-AT1G24260" transform="rotate(9.64)"><text class="lb" x="513">AT1G24260</text></g>
<g id="b-AT5G15800" transform="rotate(14.11)"><text class="lb" x="513">AT5G15800</text></g>
<g id="b-AT3G02310" transform="rotate(18.58)"><text class="lb" x="513">AT3G02310</text></g>
<g id="b-LlMADS39" transform="rotate(23.05)"><circle class="dot" cx="523" r="10.5"/><text class="lb" x="540">LlMADS39</text></g>
<g id="b-AT2G03710" transform="rotate(27.52)"><text class="lb" x="513">AT2G03710</text></g>
<g id="b-LlMADS18" transform="rotate(31.99)"><circle class="dot" cx="523" r="10.5"/><text class="lb" x="540">LlMADS18</text></g>
<g id="b-LlMADS22" transform="rotate(36.46)"><circle class="dot" cx="523" r="10.5"/><text class="lb" x="540">LlMADS22</text></g>
<g id="b-LlMADS28" transform="rotate(40.93)"><circle class="dot" cx="523" r="10.5"/><text class="lb" x="540">LlMADS28</text></g>
<g id="b-AT2G45650" transform="rotate(45.40)"><text class="lb" x="513">AT2G45650</text></g>
<g id="b-AT3G61120" transform="rotate(49.87)"><text class="lb" x="513">AT3G61120</text></g>
<g id="b-AT3G30260" transform="rotate(54.34)"><text class="lb" x="513">AT3G30260</text></g>
<g id="b-AT1G69120" transform="rotate(58.81)"><text class="lb" x="513">AT1G69120</text></g>
<g id="b-AT1G26310" transform="rotate(63.28)"><text class="lb" x="513">AT1G26310</text></g>
<g id="b-LlMADS40" transform="rotate(67.75)"><circle class="dot" cx="523" r="10.5"/><text class="lb" x="540">LlMADS40</text></g>
<g id="b-AT5G60910" transform="rotate(72.22)"><text class="lb" x="513">AT5G60910</text></g>
<g id="b-LlMADS10" transform="rotate(76.69)"><circle class="dot" cx="523" r="10.5"/><text class="lb" x="540">LlMADS10</text></g>
<g id="b-LlMADS6" transform="rotate(81.16)"><circle class="dot" cx="523" r="10.5"/><text class="lb" x="540">LlMADS6</text></g>
<g id="b-LlMADS12" transform="rotate(85.63)"><circle class="dot" cx="523" r="10.5"/><text class="lb" x="540">LlMADS12</text></g>
<g id="b-AT5G10140" transform="rotate(90.10)"><text class="lb" x="513">AT5G10140</text></g>
<g id="b-AT5G65080" transform="rotate(94.57)"><text class="lb" x="513">AT5G65080</text></g>
<g id="b-AT5G65070" transform="rotate(99.04)"><text class="lb" x="513">AT5G65070</text></g>
<g id="b-AT5G65050" transform="rotate(103.51)"><text class="lb" x="513">AT5G65050</text></g>
<g id="b-AT1G77080" transform="rotate(107.98)"><text class="lb" x="513">AT1G77080</text></g>
<g id="b-AT5G65060" transform="rotate(112.45)"><text class="lb" x="513">AT5G65060</text></g>
<g id="b-AT5G51870" transform="rotate(116.92)"><text class="lb" x="513">AT5G51870</text></g>
<g id="b-AT5G51860" transform="rotate(121.39)"><text class="lb" x="513">AT5G51860</text></g>
<g id="b-AT5G62165" transform="rotate(125.86)"><text class="lb" x="513">AT5G62165</text></g>
<g id="b-AT4G11880" transform="rotate(130.33)"><text class="lb" x="513">AT4G11880</text></g>
<g id="b-AT4G22950" transform="rotate(134.80)"><text class="lb" x="513">AT4G22950</text></g>
<g id="b-LlMADS27" transform="rotate(139.27)"><circle class="dot" cx="523" r="10.5"/><text class="lb" x="540">LlMADS27</text></g>
<g id="b-AT2G45660" transform="rotate(143.74)"><text class="lb" x="513">AT2G45660</text></g>
<g id="b-LlMADS61" transform="rotate(148.21)"><circle class="dot" cx="523" r="10.5"/><text class="lb" x="540">LlMADS61</text></g>
<g id="b-AT4G09960" transform="rotate(152.68)"><text class="lb" x="513">AT4G09960</text></g>
<g id="b-LlMADS48" transform="rotate(157.15)"><circle class="dot" cx="523" r="10.5"/><text class="lb" x="540">LlMADS48</text></g>
<g id="b-AT4G18960" transform="rotate(161.62)"><text class="lb" x="513">AT4G18960</text></g>
<g id="b-LlMADS30" transform="rotate(166.09)"><circle class="dot" cx="523" r="10.5"/><text class="lb" x="540">LlMADS30</text></g>
<g id="b-AT3G58780" transform="rotate(170.56)"><text class="lb" x="513">AT3G58780</text></g>
<g id="b-AT2G42830" transform="rotate(175.03)"><text class="lb" x="513">AT2G42830</text></g>
<g id="b-AT5G13790" transform="rotate(179.50)"><text class="lb e" x="-513" transform="rotate(180)">AT5G13790</text></g>
<g id="b-LlMADS25" transform="rotate(183.97)"><circle class="dot" cx="523" r="10.5"/><text class="lb e" x="-540" transform="rotate(180)">LlMADS25</text></g>
<g id="b-AT3G57390" transform="rotate(188.44)"><text class="lb e" x="-513" transform="rotate(180)">AT3G57390</text></g>
<g id="b-LlMADS14" transform="rotate(192.91)"><circle class="dot" cx="523" r="10.5"/><text class="lb e" x="-540" transform="rotate(180)">LlMADS14</text></g>
<g id="b-AT2G22630" transform="rotate(197.38)"><text class="lb e" x="-513" transform="rotate(180)">AT2G22630</text></g>
<g id="b-AT4G37940" transform="rotate(201.85)"><text class="lb e" x="-513" transform="rotate(180)">AT4G37940</text></g>
<g id="b-LlMADS58" transform="rotate(206.32)"><circle class="dot" cx="523" r="10.5"/><text class="lb e" x="-540" transform="rotate(180)">LlMADS58</text></g>
<g id="b-LlMADS33" transform="rotate(210.79)"><circle class="dot" cx="523" r="10.5"/><text class="lb e" x="-540" transform="rotate(180)">LlMADS33</text></g>
<g id="b-AT3G57230" transform="rotate(215.26)"><text class="lb e" x="-513" transform="rotate(180)">AT3G57230</text></g>
<g id="b-AT2G14210" transform="rotate(219.73)"><text class="lb e" x="-513" transform="rotate(180)">AT2G14210</text></g>
<g id="b-LlMADS51" transform="rotate(224.20)"><circle class="dot" cx="523" r="10.5"/><text class="lb e" x="-540" transform="rotate(180)">LlMADS51</text></g>
<g id="b-AT2G22540" transform="rotate(228.67)"><text class="lb e" x="-513" transform="rotate(180)">AT2G22540</text></g>
<g id="b-LlMADS35" transform="rotate(233.14)"><circle class="dot" cx="523" r="10.5"/><text class="lb e" x="-540" transform="rotate(180)">LlMADS35</text></g>
<g id="b-AT4G24540" transform="rotate(237.61)"><text class="lb e" x="-513" transform="rotate(180)">AT4G24540</text></g>
<g id="b-LlMADS2" transform="rotate(242.08)"><circle class="dot" cx="523" r="10.5"/><text class="lb e" x="-540" transform="rotate(180)">LlMADS2</text></g>
<g id="b-LlMADS59" transform="rotate(246.55)"><circle class="dot" cx="523" r="10.5"/><text class="lb e" x="-540" transform="rotate(180)">LlMADS59</text></g>
<g id="b-AT5G20240" transform="rotate(251.02)"><text class="lb e" x="-513" transform="rotate(180)">AT5G20240</text></g>
<g id="b-AT3G54340" transform="rotate(255.49)"><text class="lb e" x="-513" transform="rotate(180)">AT3G54340</text></g>
<g id="b-LlMADS37" transform="rotate(259.96)"><circle class="dot" cx="523" r="10.5"/><text class="lb e" x="-540" transform="rotate(180)">LlMADS37</text></g>
<g id="b-LlMADS11" transform="rotate(264.43)"><circle class="dot" cx="523" r="10.5"/><text class="lb e" x="-540" transform="rotate(180)">LlMADS11</text></g>
<g id="b-LlMADS63" transform="rotate(268.90)"><circle class="dot" cx="523" r="10.5"/><text class="lb e" x="-540" transform="rotate(180)">LlMADS63</text></g>
<g id="b-AT1G71692" transform="rotate(273.37)"><text class="lb e" x="-513" transform="rotate(180)">AT1G71692</text></g>
<g id="b-LlMADS50" transform="rotate(277.84)"><circle class="dot" cx="523" r="10.5"/><text class="lb e" x="-540" transform="rotate(180)">LlMADS50</text></g>
<g id="b-AT1G31140" transform="rotate(282.31)"><text class="lb e" x="-513" transform="rotate(180)">AT1G31140</text></g>
<g id="b-AT5G23260" transform="rotate(286.78)"><text class="lb e" x="-513" transform="rotate(180)">AT5G23260</text></g>
<g id="b-LlMADS29" transform="rotate(291.25)"><circle class="dot" cx="523" r="10.5"/><text class="lb e" x="-540" transform="rotate(180)">LlMADS29</text></g>
<g id="b-AT2G03060" transform="rotate(295.72)"><text class="lb e" x="-513" transform="rotate(180)">AT2G03060</text></g>
<g id="b-LlMADS19" transform="rotate(300.19)"><circle class="dot" cx="523" r="10.5"/><text class="lb e" x="-540" transform="rotate(180)">LlMADS19</text></g>
<g id="b-AT1G69540" transform="rotate(304.66)"><text class="lb e" x="-513" transform="rotate(180)">AT1G69540</text></g>
<g id="b-AT1G18750" transform="rotate(309.13)"><text class="lb e" x="-513" transform="rotate(180)">AT1G18750</text></g>
<g id="b-LlMADS3" transform="rotate(313.60)"><circle class="dot" cx="523" r="10.5"/><text class="lb e" x="-540" transform="rotate(180)">LlMADS3</text></g>
<g id="b-LlMADS34" transform="rotate(318.07)"><circle class="dot" cx="523" r="10.5"/><text class="lb e" x="-540" transform="rotate(180)">LlMADS34</text></g>
<g id="b-LlMADS60" transform="rotate(322.54)"><circle class="dot" cx="523" r="10.5"/><text class="lb e" x="-540" transform="rotate(180)">LlMADS60</text></g>
<g id="b-AT1G77950" transform="rotate(327.01)"><text class="lb e" x="-513" transform="rotate(180)">AT1G77950</text></g>
<g id="b-AT1G22130" transform="rotate(331.48)"><text class="lb e" x="-513" transform="rotate(180)">AT1G22130</text></g>
<g id="b-AT1G77980" transform="rotate(335.95)"><text class="lb e" x="-513" transform="rotate(180)">AT1G77980</text></g>
<g id="b-LlMADS62" transform="rotate(340.42)"><circle class="dot" cx="523" r="10.5"/><text class="lb e" x="-540" transform="rotate(180)">LlMADS62</text></g>
</g>
</svg>
